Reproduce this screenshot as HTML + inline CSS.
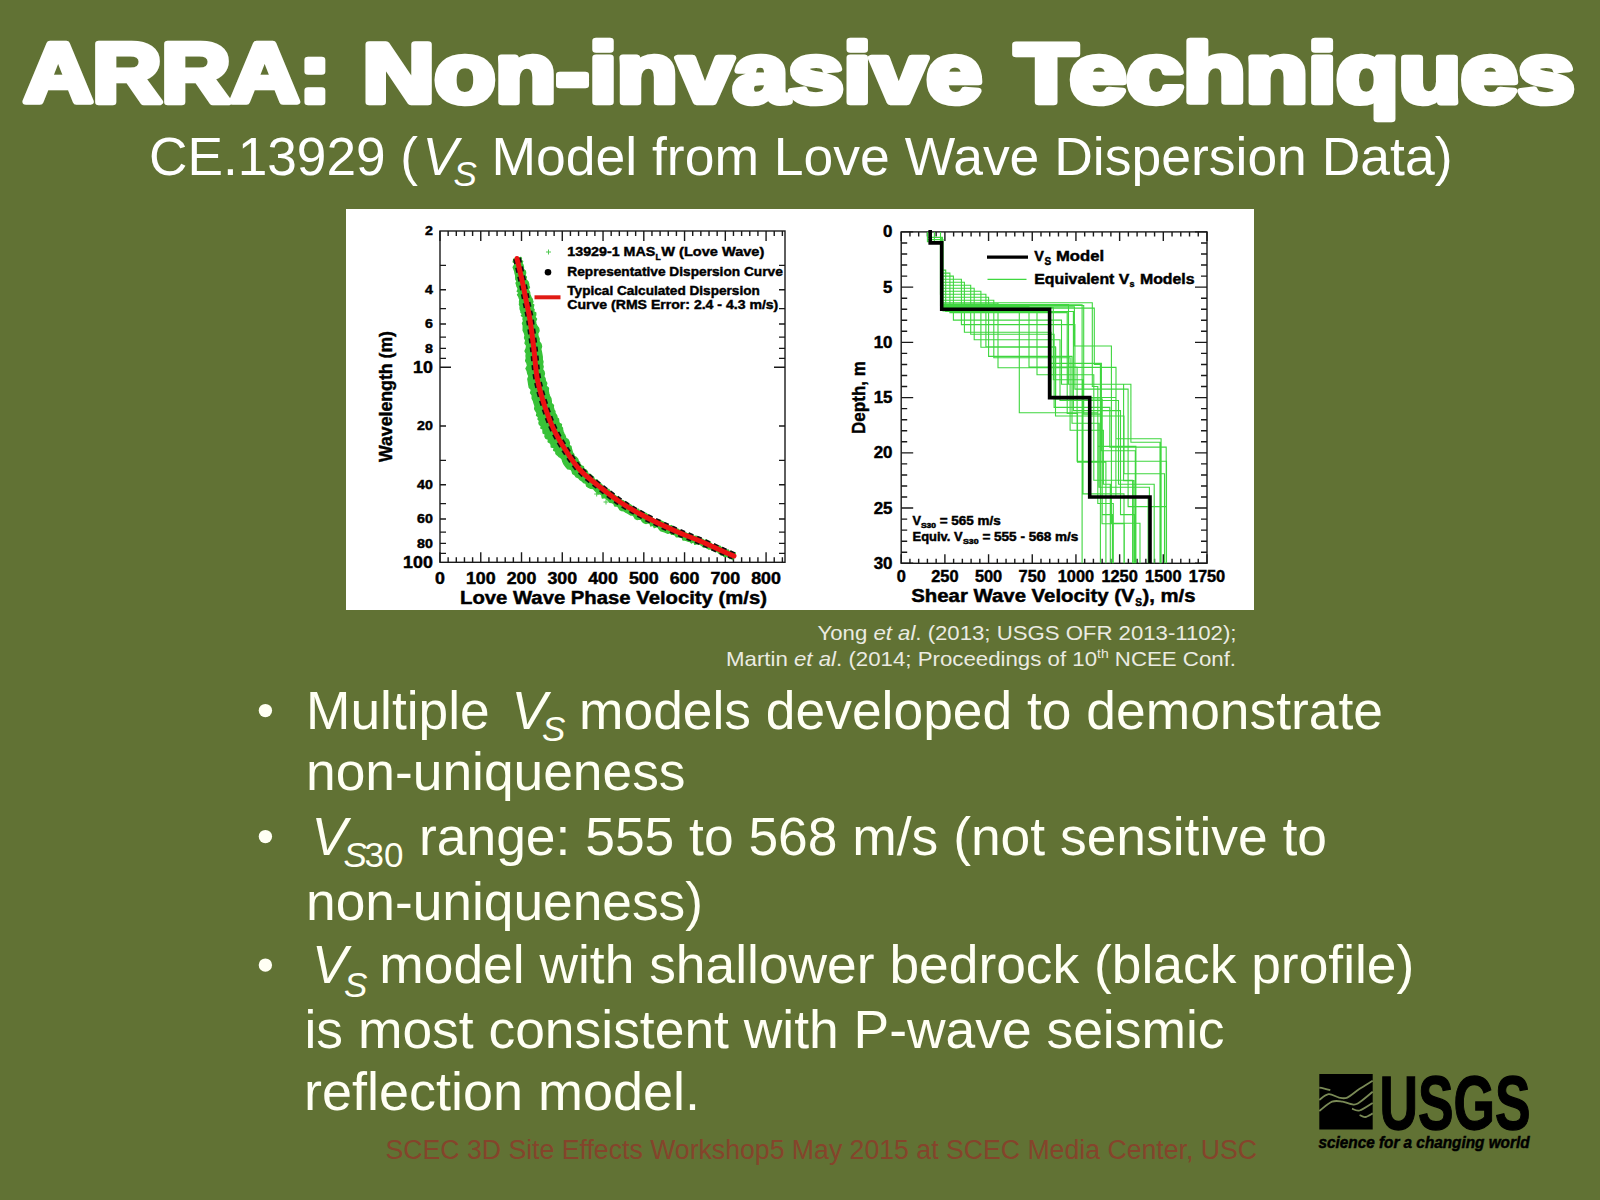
<!DOCTYPE html>
<html><head><meta charset="utf-8"><style>
html,body{margin:0;padding:0;background:#617234;}
svg{display:block;font-family:"Liberation Sans",sans-serif;}
</style></head><body>
<svg width="1600" height="1200" viewBox="0 0 1600 1200">
<rect x="0" y="0" width="1600" height="1200" fill="#617234"/>
<g id="title" stroke="#fff" stroke-width="6.5" stroke-linejoin="round">
<text x="23.80" y="102.30" font-size="83.5" font-weight="bold" font-style="normal" fill="#fff" text-anchor="start" textLength="307.00" lengthAdjust="spacingAndGlyphs" >ARRA:</text>
<text x="362.80" y="102.30" font-size="83.5" font-weight="bold" font-style="normal" fill="#fff" text-anchor="start" textLength="619.00" lengthAdjust="spacingAndGlyphs" >Non-invasive</text>
<text x="1015.00" y="102.30" font-size="83.5" font-weight="bold" font-style="normal" fill="#fff" text-anchor="start" textLength="559.50" lengthAdjust="spacingAndGlyphs" >Techniques</text>
</g>
<text x="149.00" y="175.00" font-size="53.2" font-weight="normal" font-style="normal" fill="#fff" text-anchor="start" >CE.13929 (</text>
<text x="422.50" y="175.00" font-size="53.2" font-weight="normal" font-style="italic" fill="#fff" text-anchor="start" >V</text>
<text x="453.50" y="186.30" font-size="35" font-weight="normal" font-style="italic" fill="#fff" text-anchor="start" >S</text>
<text x="491.50" y="175.00" font-size="53.5" font-weight="normal" font-style="normal" fill="#fff" text-anchor="start" textLength="961.00" lengthAdjust="spacingAndGlyphs" >Model from Love Wave Dispersion Data)</text>
<rect x="346" y="209" width="908" height="401" fill="#fff"/>
<g stroke="#1a1a1a" stroke-width="1.4" fill="none">
<rect x="440" y="231" width="345" height="331.29999999999995"/>
<path d="M440.00 562.3v-10M440.00 231v10M448.15 562.3v-5M448.15 231v5M456.30 562.3v-5M456.30 231v5M464.46 562.3v-5M464.46 231v5M472.61 562.3v-5M472.61 231v5M480.76 562.3v-10M480.76 231v10M488.91 562.3v-5M488.91 231v5M497.06 562.3v-5M497.06 231v5M505.22 562.3v-5M505.22 231v5M513.37 562.3v-5M513.37 231v5M521.52 562.3v-10M521.52 231v10M529.67 562.3v-5M529.67 231v5M537.82 562.3v-5M537.82 231v5M545.98 562.3v-5M545.98 231v5M554.13 562.3v-5M554.13 231v5M562.28 562.3v-10M562.28 231v10M570.43 562.3v-5M570.43 231v5M578.58 562.3v-5M578.58 231v5M586.74 562.3v-5M586.74 231v5M594.89 562.3v-5M594.89 231v5M603.04 562.3v-10M603.04 231v10M611.19 562.3v-5M611.19 231v5M619.34 562.3v-5M619.34 231v5M627.50 562.3v-5M627.50 231v5M635.65 562.3v-5M635.65 231v5M643.80 562.3v-10M643.80 231v10M651.95 562.3v-5M651.95 231v5M660.10 562.3v-5M660.10 231v5M668.26 562.3v-5M668.26 231v5M676.41 562.3v-5M676.41 231v5M684.56 562.3v-10M684.56 231v10M692.71 562.3v-5M692.71 231v5M700.86 562.3v-5M700.86 231v5M709.02 562.3v-5M709.02 231v5M717.17 562.3v-5M717.17 231v5M725.32 562.3v-10M725.32 231v10M733.47 562.3v-5M733.47 231v5M741.62 562.3v-5M741.62 231v5M749.78 562.3v-5M749.78 231v5M757.93 562.3v-5M757.93 231v5M766.08 562.3v-10M766.08 231v10M774.23 562.3v-5M774.23 231v5M782.38 562.3v-5M782.38 231v5M440 265.34h6M785 265.34h-6M440 289.70h6M785 289.70h-6M440 308.60h6M785 308.60h-6M440 324.04h6M785 324.04h-6M440 337.09h6M785 337.09h-6M440 348.40h6M785 348.40h-6M440 358.38h6M785 358.38h-6M440 367.30h11M785 367.30h-11M440 426.00h6M785 426.00h-6M440 460.34h6M785 460.34h-6M440 484.70h6M785 484.70h-6M440 503.60h6M785 503.60h-6M440 519.04h6M785 519.04h-6M440 532.09h6M785 532.09h-6M440 543.40h6M785 543.40h-6M440 553.38h6M785 553.38h-6"/>
</g>
<text x="432.80" y="235.30" font-size="12.5" font-weight="bold" font-style="normal" fill="#000" text-anchor="end" textLength="7.90" lengthAdjust="spacingAndGlyphs" stroke="#000" stroke-width="0.45">2</text>
<text x="432.80" y="294.00" font-size="12.5" font-weight="bold" font-style="normal" fill="#000" text-anchor="end" textLength="7.90" lengthAdjust="spacingAndGlyphs" stroke="#000" stroke-width="0.45">4</text>
<text x="432.80" y="328.34" font-size="12.5" font-weight="bold" font-style="normal" fill="#000" text-anchor="end" textLength="7.90" lengthAdjust="spacingAndGlyphs" stroke="#000" stroke-width="0.45">6</text>
<text x="432.80" y="352.70" font-size="12.5" font-weight="bold" font-style="normal" fill="#000" text-anchor="end" textLength="7.90" lengthAdjust="spacingAndGlyphs" stroke="#000" stroke-width="0.45">8</text>
<text x="432.80" y="430.30" font-size="12.5" font-weight="bold" font-style="normal" fill="#000" text-anchor="end" textLength="15.80" lengthAdjust="spacingAndGlyphs" stroke="#000" stroke-width="0.45">20</text>
<text x="432.80" y="489.00" font-size="12.5" font-weight="bold" font-style="normal" fill="#000" text-anchor="end" textLength="15.80" lengthAdjust="spacingAndGlyphs" stroke="#000" stroke-width="0.45">40</text>
<text x="432.80" y="523.34" font-size="12.5" font-weight="bold" font-style="normal" fill="#000" text-anchor="end" textLength="15.80" lengthAdjust="spacingAndGlyphs" stroke="#000" stroke-width="0.45">60</text>
<text x="432.80" y="547.70" font-size="12.5" font-weight="bold" font-style="normal" fill="#000" text-anchor="end" textLength="15.80" lengthAdjust="spacingAndGlyphs" stroke="#000" stroke-width="0.45">80</text>
<text x="432.80" y="372.90" font-size="16" font-weight="bold" font-style="normal" fill="#000" text-anchor="end" textLength="19.80" lengthAdjust="spacingAndGlyphs" stroke="#000" stroke-width="0.45">10</text>
<text x="432.80" y="567.90" font-size="16" font-weight="bold" font-style="normal" fill="#000" text-anchor="end" textLength="29.70" lengthAdjust="spacingAndGlyphs" stroke="#000" stroke-width="0.45">100</text>
<text x="440.00" y="584.00" font-size="16" font-weight="bold" font-style="normal" fill="#000" text-anchor="middle" textLength="9.90" lengthAdjust="spacingAndGlyphs" stroke="#000" stroke-width="0.45">0</text>
<text x="480.76" y="584.00" font-size="16" font-weight="bold" font-style="normal" fill="#000" text-anchor="middle" textLength="29.70" lengthAdjust="spacingAndGlyphs" stroke="#000" stroke-width="0.45">100</text>
<text x="521.52" y="584.00" font-size="16" font-weight="bold" font-style="normal" fill="#000" text-anchor="middle" textLength="29.70" lengthAdjust="spacingAndGlyphs" stroke="#000" stroke-width="0.45">200</text>
<text x="562.28" y="584.00" font-size="16" font-weight="bold" font-style="normal" fill="#000" text-anchor="middle" textLength="29.70" lengthAdjust="spacingAndGlyphs" stroke="#000" stroke-width="0.45">300</text>
<text x="603.04" y="584.00" font-size="16" font-weight="bold" font-style="normal" fill="#000" text-anchor="middle" textLength="29.70" lengthAdjust="spacingAndGlyphs" stroke="#000" stroke-width="0.45">400</text>
<text x="643.80" y="584.00" font-size="16" font-weight="bold" font-style="normal" fill="#000" text-anchor="middle" textLength="29.70" lengthAdjust="spacingAndGlyphs" stroke="#000" stroke-width="0.45">500</text>
<text x="684.56" y="584.00" font-size="16" font-weight="bold" font-style="normal" fill="#000" text-anchor="middle" textLength="29.70" lengthAdjust="spacingAndGlyphs" stroke="#000" stroke-width="0.45">600</text>
<text x="725.32" y="584.00" font-size="16" font-weight="bold" font-style="normal" fill="#000" text-anchor="middle" textLength="29.70" lengthAdjust="spacingAndGlyphs" stroke="#000" stroke-width="0.45">700</text>
<text x="766.08" y="584.00" font-size="16" font-weight="bold" font-style="normal" fill="#000" text-anchor="middle" textLength="29.70" lengthAdjust="spacingAndGlyphs" stroke="#000" stroke-width="0.45">800</text>
<text x="460.00" y="604.40" font-size="18" font-weight="bold" font-style="normal" fill="#000" text-anchor="start" textLength="307.00" lengthAdjust="spacingAndGlyphs" stroke="#000" stroke-width="0.45">Love Wave Phase Velocity (m/s)</text>
<text transform="translate(391.5 462) rotate(-90)" font-size="18.5" font-weight="bold" fill="#000" textLength="131" lengthAdjust="spacingAndGlyphs" stroke="#000" stroke-width="0.45">Wavelength (m)</text>
<path d="M513.7 259.3 L513.6 260.4 L513.2 261.9 L514.9 263.1 L514.6 265.0 L513.2 267.3 L514.0 269.2 L514.8 271.2 L515.1 273.3 L515.8 275.4 L515.8 277.5 L515.9 279.5 L517.2 281.0 L516.1 283.0 L516.7 284.7 L517.0 286.3 L518.0 287.9 L518.1 289.6 L517.3 291.4 L519.3 292.7 L517.6 294.8 L518.7 296.3 L519.2 297.9 L519.9 299.5 L519.6 301.3 L519.7 303.0 L519.5 304.7 L520.3 306.2 L520.1 307.9 L520.3 309.4 L521.0 310.9 L521.0 312.5 L522.6 313.8 L521.5 315.7 L523.5 317.1 L523.0 319.1 L523.6 321.0 L522.5 323.3 L523.3 325.5 L523.3 327.9 L523.2 330.4 L524.4 332.8 L525.1 335.3 L524.6 338.0 L525.8 340.5 L525.1 343.3 L526.7 345.7 L526.3 348.4 L525.1 351.1 L526.4 353.4 L526.1 355.8 L526.4 358.3 L525.7 360.8 L527.0 363.2 L527.6 365.7 L526.0 368.5 L527.3 371.0 L527.8 373.6 L529.0 376.1 L527.9 379.1 L528.4 381.8 L528.8 384.6 L529.3 387.4 L531.5 389.7 L530.6 392.9 L532.3 395.4 L532.2 398.3 L533.5 400.9 L534.2 403.5 L535.1 406.0 L534.7 408.8 L535.8 410.9 L537.1 412.9 L536.6 415.4 L538.6 416.9 L538.1 419.2 L539.6 420.8 L539.0 423.0 L539.6 424.7 L541.4 425.9 L540.9 428.1 L543.0 429.2 L543.0 431.1 L543.2 433.1 L545.3 434.2 L545.0 436.6 L546.0 438.3 L548.5 439.3 L548.2 441.8 L550.2 442.9 L551.2 444.7 L551.3 447.0 L554.3 447.5 L553.7 450.3 L555.8 451.4 L556.0 453.7 L557.6 455.1 L559.0 456.6 L560.9 457.7 L562.3 459.3 L562.8 461.5 L563.7 463.5 L564.9 465.3 L566.2 467.1 L567.7 468.8 L570.9 469.2 L572.1 471.1 L572.8 473.6 L574.9 474.8 L576.2 476.8 L578.6 477.7 L580.0 479.6 L582.0 480.8 L583.6 482.6 L586.0 483.3 L586.7 486.1 L588.7 487.3 L590.7 488.2 L593.4 488.5 L594.8 490.2 L596.2 491.7 L597.4 493.7 L600.2 493.6 L601.8 495.0 L602.3 497.9 L605.3 497.5 L606.7 499.2 L608.4 500.5 L609.8 502.2 L612.0 502.6 L613.9 503.7 L614.8 506.0 L617.4 505.9 L618.7 507.6 L619.9 509.5 L621.7 510.6 L623.9 510.8 L625.5 512.0 L627.3 512.8 L629.0 513.9 L630.6 515.0 L632.9 515.0 L634.2 516.6 L635.3 518.6 L637.0 519.4 L639.5 519.0 L641.3 519.6 L642.5 521.6 L644.0 522.7 L645.8 523.4 L648.2 522.8 L650.0 523.4 L650.9 525.9 L653.3 525.2 L654.2 527.6 L656.8 526.5 L658.3 527.5 L659.5 529.4 L660.9 530.8 L662.7 531.2 L664.5 531.9 L666.2 532.5 L667.9 533.3 L670.3 532.5 L671.5 534.3 L673.5 534.3 L675.2 535.0 L676.4 536.8 L678.5 536.6 L680.2 537.3 L682.1 537.3 L683.0 540.0 L684.9 540.1 L686.7 540.6 L688.4 541.2 L690.2 541.4 L691.5 542.9 L693.9 541.7 L694.8 544.2 L696.9 543.8 L698.8 543.8 L700.5 544.5 L702.1 545.5 L703.4 547.1 L705.6 546.9 L707.2 547.9 L708.8 549.1 L710.9 549.0 L712.3 550.3 L714.3 550.4 L715.8 551.4 L717.5 551.6 L718.7 553.0 L720.1 553.6 L721.2 554.9 L723.0 554.8 L724.0 556.2 L725.5 556.4 L727.1 556.4 L728.5 556.4 L729.2 557.8 L730.1 558.6 L731.7 557.5 L732.5 557.8 L732.5 559.6 L735.3 553.0 L734.5 553.0 L733.3 553.5 L732.4 553.2 L731.9 551.4 L730.6 551.4 L729.0 551.8 L728.3 549.9 L726.5 550.3 L725.4 549.2 L723.9 548.8 L722.7 547.7 L721.1 547.5 L720.0 546.2 L718.3 545.9 L716.3 545.9 L714.7 545.1 L712.7 545.0 L711.2 543.8 L710.0 541.9 L708.1 541.4 L706.5 540.1 L704.2 540.7 L702.7 539.3 L700.8 539.1 L699.5 537.6 L697.6 537.3 L696.1 536.2 L694.0 536.6 L692.7 535.0 L690.9 534.6 L689.4 533.5 L687.3 534.0 L685.9 532.9 L684.3 532.1 L682.6 531.5 L680.9 530.9 L679.2 530.2 L677.8 529.1 L675.7 529.1 L674.6 527.2 L672.5 527.4 L671.4 525.6 L669.0 526.3 L667.7 524.8 L665.7 524.9 L664.5 523.2 L663.0 521.9 L661.4 521.1 L659.7 520.3 L657.5 520.7 L655.7 520.1 L654.0 519.4 L652.5 518.4 L651.2 516.8 L649.5 516.0 L648.0 515.0 L646.5 513.7 L644.8 513.0 L642.8 512.7 L641.5 511.2 L639.5 511.0 L638.3 509.2 L636.2 509.1 L634.8 507.6 L632.7 507.5 L631.5 505.7 L629.9 504.7 L627.9 504.2 L626.6 502.8 L624.7 502.1 L623.3 500.7 L621.2 500.3 L619.8 498.8 L618.3 497.4 L616.4 496.5 L614.8 495.3 L613.5 493.6 L611.5 492.9 L610.1 491.3 L608.8 489.4 L606.2 489.4 L604.7 488.0 L602.8 486.8 L601.8 484.8 L600.2 483.3 L598.1 482.4 L597.1 480.1 L594.4 480.0 L593.6 477.4 L592.0 476.0 L590.4 474.5 L588.0 473.9 L587.3 471.6 L585.9 470.0 L583.8 469.2 L583.4 466.8 L581.5 465.9 L580.0 464.6 L579.5 462.4 L578.2 460.9 L577.6 458.9 L576.2 457.4 L574.2 456.4 L573.7 454.3 L572.4 452.7 L571.9 450.6 L571.3 448.6 L570.9 446.5 L569.0 445.4 L569.4 442.9 L568.7 441.1 L567.8 439.4 L565.7 438.5 L565.3 436.5 L564.6 434.8 L563.7 433.3 L563.0 431.5 L562.5 429.8 L562.4 427.9 L561.1 426.5 L561.4 424.5 L559.5 423.5 L558.7 422.1 L558.6 420.4 L558.4 418.9 L556.9 417.8 L556.8 416.1 L556.0 414.7 L554.9 413.2 L554.9 411.3 L553.9 409.6 L553.2 407.6 L553.4 405.2 L551.3 403.4 L551.2 400.8 L550.8 398.3 L549.5 396.0 L548.7 393.5 L548.2 390.9 L548.4 388.1 L546.0 386.0 L546.7 383.2 L545.3 380.9 L545.0 378.5 L543.7 376.3 L544.4 373.8 L543.9 371.5 L542.4 369.3 L543.1 366.7 L542.4 364.3 L542.9 361.8 L542.2 359.4 L542.2 356.8 L541.8 354.3 L541.3 351.7 L540.7 349.2 L541.5 346.5 L540.9 343.9 L539.0 341.5 L539.1 338.8 L538.0 336.3 L537.6 333.6 L539.0 330.8 L538.6 328.3 L536.8 326.0 L535.9 323.7 L535.4 321.4 L536.5 319.0 L534.8 317.1 L535.7 314.9 L535.7 313.0 L533.5 311.6 L534.1 309.8 L533.0 308.3 L533.3 306.6 L533.7 304.9 L531.7 303.7 L532.9 301.9 L532.4 300.4 L532.0 298.8 L531.0 297.3 L530.2 295.7 L529.7 294.1 L529.6 292.4 L528.8 290.9 L528.2 289.3 L529.4 287.3 L528.8 285.7 L528.6 284.0 L528.2 282.3 L527.0 280.7 L525.7 279.2 L526.3 277.1 L524.8 275.4 L525.6 273.1 L525.3 271.0 L523.3 269.2 L523.4 267.0 L522.9 265.0 L521.9 263.3 L522.6 261.3 L520.7 260.1 L521.4 258.6 L521.0 257.6Z" fill="#38c238" stroke="#38c238" stroke-width="1.5" stroke-linejoin="round"/>
<path d="M594.2 494h5M596.7 491.5v5M603.5 502h5M606 499.5v5" stroke="#50c850" stroke-width="1"/>
<path d="M517 258.5C517.8 262.1 520.5 273.1 522 280C523.5 286.9 524.7 293.3 526 300C527.3 306.7 528.7 311.7 530 320C531.3 328.3 532.8 340.0 534 350C535.2 360.0 535.5 370.0 537.5 380C539.5 390.0 543.2 401.7 546 410C548.8 418.3 550.8 423.3 554 430C557.2 436.7 561.2 443.3 565.5 450C569.8 456.7 574.2 463.8 580 470C585.8 476.2 593.3 481.7 600 487C606.7 492.3 613.3 497.5 620 502C626.7 506.5 633.3 510.3 640 514C646.7 517.7 653.3 520.8 660 524C666.7 527.2 673.3 530.2 680 533C686.7 535.8 693.3 538.2 700 541C706.7 543.8 714.3 547.5 720 550C725.7 552.5 731.7 555.0 734 556" stroke="#111" stroke-width="8" fill="none" stroke-dasharray="5 4"/>
<path d="M517 258.5C517.8 262.1 520.5 273.1 522 280C523.5 286.9 524.7 293.3 526 300C527.3 306.7 528.7 311.7 530 320C531.3 328.3 532.8 340.0 534 350C535.2 360.0 535.5 370.0 537.5 380C539.5 390.0 543.2 401.7 546 410C548.8 418.3 550.8 423.3 554 430C557.2 436.7 561.2 443.3 565.5 450C569.8 456.7 574.2 463.8 580 470C585.8 476.2 593.3 481.7 600 487C606.7 492.3 613.3 497.5 620 502C626.7 506.5 633.3 510.3 640 514C646.7 517.7 653.3 520.8 660 524C666.7 527.2 673.3 530.2 680 533C686.7 535.8 693.3 538.2 700 541C706.7 543.8 714.3 547.5 720 550C725.7 552.5 731.7 555.0 734 556" stroke="#ec1212" stroke-width="5" fill="none" stroke-linecap="round"/>
<path d="M546 252h5M548.5 249.5v5" stroke="#50c850" stroke-width="1"/>
<circle cx="548" cy="272.2" r="3.3" fill="#000"/>
<path d="M534.5 297.3h26" stroke="#e01b14" stroke-width="4"/>
<text x="567.30" y="256.10" font-size="13.5" font-weight="bold" font-style="normal" fill="#000" text-anchor="start" textLength="88.00" lengthAdjust="spacingAndGlyphs" stroke="#000" stroke-width="0.45">13929-1 MAS</text>
<text x="655.50" y="259.50" font-size="8.5" font-weight="bold" font-style="normal" fill="#000" text-anchor="start" stroke="#000" stroke-width="0.45">L</text>
<text x="661.30" y="256.10" font-size="13.5" font-weight="bold" font-style="normal" fill="#000" text-anchor="start" textLength="103.00" lengthAdjust="spacingAndGlyphs" stroke="#000" stroke-width="0.45">W (Love Wave)</text>
<text x="567.30" y="276.30" font-size="13.5" font-weight="bold" font-style="normal" fill="#000" text-anchor="start" textLength="215.50" lengthAdjust="spacingAndGlyphs" stroke="#000" stroke-width="0.45">Representative Dispersion Curve</text>
<text x="567.30" y="294.90" font-size="13.5" font-weight="bold" font-style="normal" fill="#000" text-anchor="start" textLength="192.50" lengthAdjust="spacingAndGlyphs" stroke="#000" stroke-width="0.45">Typical Calculated Dispersion</text>
<text x="567.30" y="309.25" font-size="13.5" font-weight="bold" font-style="normal" fill="#000" text-anchor="start" textLength="211.00" lengthAdjust="spacingAndGlyphs" stroke="#000" stroke-width="0.45">Curve (RMS Error: 2.4 - 4.3 m/s)</text>
<g stroke="#1a1a1a" stroke-width="1.4" fill="none">
<rect x="901.2" y="231.9" width="305.79999999999995" height="331.4"/>
<path d="M901.20 563.3v-9M901.20 231.9v9M909.94 563.3v-4.6M909.94 231.9v4.6M918.67 563.3v-4.6M918.67 231.9v4.6M927.41 563.3v-4.6M927.41 231.9v4.6M936.15 563.3v-4.6M936.15 231.9v4.6M944.89 563.3v-9M944.89 231.9v9M953.62 563.3v-4.6M953.62 231.9v4.6M962.36 563.3v-4.6M962.36 231.9v4.6M971.10 563.3v-4.6M971.10 231.9v4.6M979.83 563.3v-4.6M979.83 231.9v4.6M988.57 563.3v-9M988.57 231.9v9M997.31 563.3v-4.6M997.31 231.9v4.6M1006.05 563.3v-4.6M1006.05 231.9v4.6M1014.78 563.3v-4.6M1014.78 231.9v4.6M1023.52 563.3v-4.6M1023.52 231.9v4.6M1032.26 563.3v-9M1032.26 231.9v9M1040.99 563.3v-4.6M1040.99 231.9v4.6M1049.73 563.3v-4.6M1049.73 231.9v4.6M1058.47 563.3v-4.6M1058.47 231.9v4.6M1067.21 563.3v-4.6M1067.21 231.9v4.6M1075.94 563.3v-9M1075.94 231.9v9M1084.68 563.3v-4.6M1084.68 231.9v4.6M1093.42 563.3v-4.6M1093.42 231.9v4.6M1102.15 563.3v-4.6M1102.15 231.9v4.6M1110.89 563.3v-4.6M1110.89 231.9v4.6M1119.63 563.3v-9M1119.63 231.9v9M1128.37 563.3v-4.6M1128.37 231.9v4.6M1137.10 563.3v-4.6M1137.10 231.9v4.6M1145.84 563.3v-4.6M1145.84 231.9v4.6M1154.58 563.3v-4.6M1154.58 231.9v4.6M1163.31 563.3v-9M1163.31 231.9v9M1172.05 563.3v-4.6M1172.05 231.9v4.6M1180.79 563.3v-4.6M1180.79 231.9v4.6M1189.53 563.3v-4.6M1189.53 231.9v4.6M1198.26 563.3v-4.6M1198.26 231.9v4.6M1207.00 563.3v-9M1207.00 231.9v9M901.2 231.90h12M1207 231.90h-12M901.2 242.95h6M1207 242.95h-6M901.2 253.99h6M1207 253.99h-6M901.2 265.04h6M1207 265.04h-6M901.2 276.09h6M1207 276.09h-6M901.2 287.13h12M1207 287.13h-12M901.2 298.18h6M1207 298.18h-6M901.2 309.23h6M1207 309.23h-6M901.2 320.27h6M1207 320.27h-6M901.2 331.32h6M1207 331.32h-6M901.2 342.37h12M1207 342.37h-12M901.2 353.41h6M1207 353.41h-6M901.2 364.46h6M1207 364.46h-6M901.2 375.51h6M1207 375.51h-6M901.2 386.55h6M1207 386.55h-6M901.2 397.60h12M1207 397.60h-12M901.2 408.65h6M1207 408.65h-6M901.2 419.69h6M1207 419.69h-6M901.2 430.74h6M1207 430.74h-6M901.2 441.79h6M1207 441.79h-6M901.2 452.83h12M1207 452.83h-12M901.2 463.88h6M1207 463.88h-6M901.2 474.93h6M1207 474.93h-6M901.2 485.97h6M1207 485.97h-6M901.2 497.02h6M1207 497.02h-6M901.2 508.07h12M1207 508.07h-12M901.2 519.11h6M1207 519.11h-6M901.2 530.16h6M1207 530.16h-6M901.2 541.21h6M1207 541.21h-6M901.2 552.25h6M1207 552.25h-6M901.2 563.30h12M1207 563.30h-12"/>
</g>
<path d="M934.4 231.9V241.8H941.3V270.1H945.7V311.5H1073.4V410.6H1120.5V514.6H1134.8V563.3M927.4 231.9V237.4H940.7V273.1H949.9V312.6H1067.2V413.5H1077.5V462.1H1105.9V563.3M940.5 231.9V237.4H942.5V276.1H953.4V320.1H1061.5V384.3H1130.9V442.3H1160.0V563.3M929.2 231.9V237.4H941.2V279.2H961.4V324.6H1074.9V389.1H1128.1V506.6H1166.3V563.3M940.5 231.9V239.6H941.9V282.2H964.4V332.2H1051.1V397.5H1115.9V496.8H1148.1V563.3M934.4 231.9V237.4H941.2V285.2H970.7V334.2H1054.1V407.4H1109.8V447.1H1166.2V563.3M927.4 231.9V241.8H941.3V288.2H974.2V339.7H1060.0V400.5H1118.5V484.3H1154.2V563.3M929.2 231.9V237.4H942.5V291.2H980.9V347.3H1055.7V399.0H1102.2V514.6H1112.4V563.3M934.4 231.9V239.6H940.4V294.2H985.9V346.7H1055.5V416.0H1124.0V473.7H1164.5V563.3M927.4 231.9V239.6H942.3V297.2H988.6V356.4H1072.0V423.3H1099.1V487.2H1149.4V563.3M927.4 231.9V241.8H941.8V300.2H993.8V357.7H1070.1V430.3H1103.4V484.3H1110.3V563.3M927.4 231.9V239.6H941.3V303.3H998.0V367.7H1068.4V384.3H1123.6V480.6H1133.9V563.3M934.4 231.9V237.4H940.5V305.5H1019.3V412.8H1097.8V446.4H1135.9V563.3M940.5 231.9V241.8H942.4V306.2H1029.0V367.0H1077.1V461.3H1166.5V563.3M929.2 231.9V241.8H943.0V310.9H1037.0V374.8H1093.8V480.2H1132.6V563.3M927.4 231.9V239.6H942.3V308.5H1049.8V363.4H1101.4V450.7H1135.3V563.3M934.4 231.9V239.6H942.2V307.4H1053.3V379.7H1083.0V493.9H1124.0V563.3M934.4 231.9V239.6H941.1V304.6H1068.5V367.4H1116.0V438.7H1161.1V563.3M940.5 231.9V239.6H943.0V306.7H1074.4V346.0H1111.4V523.2H1140.0V563.3M927.4 231.9V241.8H942.2V305.5H1083.7V414.1H1102.0V523.8H1124.3V563.3M934.4 231.9V241.8H943.1V302.8H1092.3V386.5H1097.8V503.5H1113.3V563.3M929.2 231.9V239.6H941.7V304.8H1082.1V563.3M934.4 231.9V237.4H942.4V308.1H1094.3V364.5H1100.4V563.3" stroke="#3fd63f" stroke-width="1.1" fill="none"/>
<path d="M930.2 229.9V242.9H941.7V309.2H1049.6V397.6H1089.7V497.0H1150.0V563.3" stroke="#000" stroke-width="3.6" fill="none"/>
<path d="M987 257.2h41" stroke="#000" stroke-width="3.2"/>
<path d="M987.5 279.4h39" stroke="#3fd83f" stroke-width="1.3"/>
<text x="1034.30" y="261.00" font-size="14.5" font-weight="bold" font-style="normal" fill="#000" text-anchor="start" stroke="#000" stroke-width="0.45">V</text>
<text x="1044.50" y="265.00" font-size="10" font-weight="bold" font-style="normal" fill="#000" text-anchor="start" stroke="#000" stroke-width="0.45">S</text>
<text x="1056.00" y="261.00" font-size="14.5" font-weight="bold" font-style="normal" fill="#000" text-anchor="start" textLength="48.00" lengthAdjust="spacingAndGlyphs" stroke="#000" stroke-width="0.45">Model</text>
<text x="1034.30" y="284.00" font-size="14.5" font-weight="bold" font-style="normal" fill="#000" text-anchor="start" textLength="95.00" lengthAdjust="spacingAndGlyphs" stroke="#000" stroke-width="0.45">Equivalent V</text>
<text x="1129.50" y="287.00" font-size="9" font-weight="bold" font-style="normal" fill="#000" text-anchor="start" stroke="#000" stroke-width="0.45">s</text>
<text x="1140.00" y="284.00" font-size="14.5" font-weight="bold" font-style="normal" fill="#000" text-anchor="start" textLength="54.50" lengthAdjust="spacingAndGlyphs" stroke="#000" stroke-width="0.45">Models</text>
<text x="912.60" y="525.20" font-size="12" font-weight="bold" font-style="normal" fill="#000" text-anchor="start" textLength="8.50" lengthAdjust="spacingAndGlyphs" stroke="#000" stroke-width="0.45">V</text>
<text x="921.00" y="528.00" font-size="6.5" font-weight="bold" font-style="normal" fill="#000" text-anchor="start" textLength="15.00" lengthAdjust="spacingAndGlyphs" stroke="#000" stroke-width="0.45">S30</text>
<text x="939.70" y="525.20" font-size="12" font-weight="bold" font-style="normal" fill="#000" text-anchor="start" textLength="61.00" lengthAdjust="spacingAndGlyphs" stroke="#000" stroke-width="0.45">= 565 m/s</text>
<text x="912.60" y="540.70" font-size="12" font-weight="bold" font-style="normal" fill="#000" text-anchor="start" textLength="50.00" lengthAdjust="spacingAndGlyphs" stroke="#000" stroke-width="0.45">Equiv. V</text>
<text x="963.00" y="543.60" font-size="6.5" font-weight="bold" font-style="normal" fill="#000" text-anchor="start" textLength="15.50" lengthAdjust="spacingAndGlyphs" stroke="#000" stroke-width="0.45">S30</text>
<text x="982.40" y="540.70" font-size="12" font-weight="bold" font-style="normal" fill="#000" text-anchor="start" textLength="96.00" lengthAdjust="spacingAndGlyphs" stroke="#000" stroke-width="0.45">= 555 - 568 m/s</text>
<text x="892.50" y="237.40" font-size="16" font-weight="bold" font-style="normal" fill="#000" text-anchor="end" textLength="9.40" lengthAdjust="spacingAndGlyphs" stroke="#000" stroke-width="0.45">0</text>
<text x="892.50" y="292.63" font-size="16" font-weight="bold" font-style="normal" fill="#000" text-anchor="end" textLength="9.40" lengthAdjust="spacingAndGlyphs" stroke="#000" stroke-width="0.45">5</text>
<text x="892.50" y="347.87" font-size="16" font-weight="bold" font-style="normal" fill="#000" text-anchor="end" textLength="18.80" lengthAdjust="spacingAndGlyphs" stroke="#000" stroke-width="0.45">10</text>
<text x="892.50" y="403.10" font-size="16" font-weight="bold" font-style="normal" fill="#000" text-anchor="end" textLength="18.80" lengthAdjust="spacingAndGlyphs" stroke="#000" stroke-width="0.45">15</text>
<text x="892.50" y="458.33" font-size="16" font-weight="bold" font-style="normal" fill="#000" text-anchor="end" textLength="18.80" lengthAdjust="spacingAndGlyphs" stroke="#000" stroke-width="0.45">20</text>
<text x="892.50" y="513.57" font-size="16" font-weight="bold" font-style="normal" fill="#000" text-anchor="end" textLength="18.80" lengthAdjust="spacingAndGlyphs" stroke="#000" stroke-width="0.45">25</text>
<text x="892.50" y="568.80" font-size="16" font-weight="bold" font-style="normal" fill="#000" text-anchor="end" textLength="18.80" lengthAdjust="spacingAndGlyphs" stroke="#000" stroke-width="0.45">30</text>
<text x="901.20" y="582.00" font-size="16" font-weight="bold" font-style="normal" fill="#000" text-anchor="middle" textLength="9.10" lengthAdjust="spacingAndGlyphs" stroke="#000" stroke-width="0.45">0</text>
<text x="944.89" y="582.00" font-size="16" font-weight="bold" font-style="normal" fill="#000" text-anchor="middle" textLength="27.30" lengthAdjust="spacingAndGlyphs" stroke="#000" stroke-width="0.45">250</text>
<text x="988.57" y="582.00" font-size="16" font-weight="bold" font-style="normal" fill="#000" text-anchor="middle" textLength="27.30" lengthAdjust="spacingAndGlyphs" stroke="#000" stroke-width="0.45">500</text>
<text x="1032.26" y="582.00" font-size="16" font-weight="bold" font-style="normal" fill="#000" text-anchor="middle" textLength="27.30" lengthAdjust="spacingAndGlyphs" stroke="#000" stroke-width="0.45">750</text>
<text x="1075.94" y="582.00" font-size="16" font-weight="bold" font-style="normal" fill="#000" text-anchor="middle" textLength="36.40" lengthAdjust="spacingAndGlyphs" stroke="#000" stroke-width="0.45">1000</text>
<text x="1119.63" y="582.00" font-size="16" font-weight="bold" font-style="normal" fill="#000" text-anchor="middle" textLength="36.40" lengthAdjust="spacingAndGlyphs" stroke="#000" stroke-width="0.45">1250</text>
<text x="1163.31" y="582.00" font-size="16" font-weight="bold" font-style="normal" fill="#000" text-anchor="middle" textLength="36.40" lengthAdjust="spacingAndGlyphs" stroke="#000" stroke-width="0.45">1500</text>
<text x="1207.00" y="582.00" font-size="16" font-weight="bold" font-style="normal" fill="#000" text-anchor="middle" textLength="36.40" lengthAdjust="spacingAndGlyphs" stroke="#000" stroke-width="0.45">1750</text>
<text x="911.20" y="601.70" font-size="18" font-weight="bold" font-style="normal" fill="#000" text-anchor="start" textLength="223.50" lengthAdjust="spacingAndGlyphs" stroke="#000" stroke-width="0.45">Shear Wave Velocity (V</text>
<text x="1135.30" y="605.60" font-size="10" font-weight="bold" font-style="normal" fill="#000" text-anchor="start" textLength="6.80" lengthAdjust="spacingAndGlyphs" stroke="#000" stroke-width="0.45">S</text>
<text x="1142.50" y="601.70" font-size="18" font-weight="bold" font-style="normal" fill="#000" text-anchor="start" textLength="53.00" lengthAdjust="spacingAndGlyphs" stroke="#000" stroke-width="0.45">), m/s</text>
<text transform="translate(864.5 434) rotate(-90)" font-size="18.5" font-weight="bold" fill="#000" textLength="73" lengthAdjust="spacingAndGlyphs" stroke="#000" stroke-width="0.45">Depth, m</text>
<text x="817.5" y="639.75" font-size="20.8" fill="#ebebe2" textLength="419" lengthAdjust="spacingAndGlyphs">Yong <tspan font-style="italic">et al</tspan>. (2013; USGS OFR 2013-1102);</text>
<text x="726" y="666" font-size="20.8" fill="#ebebe2" textLength="510" lengthAdjust="spacingAndGlyphs">Martin <tspan font-style="italic">et al</tspan>. (2014; Proceedings of 10<tspan font-size="13" dy="-8">th</tspan><tspan dy="8"> NCEE Conf.</tspan></text>
<circle cx="265.4" cy="710.6" r="6.7" fill="#fffff4"/>
<circle cx="265.4" cy="836.6" r="6.7" fill="#fffff4"/>
<circle cx="265.4" cy="965.1" r="6.7" fill="#fffff4"/>
<text x="306.00" y="728.80" font-size="53.3" font-weight="normal" font-style="normal" fill="#fffff4" text-anchor="start" >Multiple</text>
<text x="511.50" y="728.80" font-size="53.3" font-weight="normal" font-style="italic" fill="#fffff4" text-anchor="start" >V</text>
<text x="542.00" y="740.80" font-size="35" font-weight="normal" font-style="italic" fill="#fffff4" text-anchor="start" >S</text>
<text x="579.00" y="728.80" font-size="53.3" font-weight="normal" font-style="normal" fill="#fffff4" text-anchor="start" textLength="804.00" lengthAdjust="spacingAndGlyphs" >models developed to demonstrate</text>
<text x="306.00" y="790.00" font-size="53.3" font-weight="normal" font-style="normal" fill="#fffff4" text-anchor="start" textLength="379.50" lengthAdjust="spacingAndGlyphs" >non-uniqueness</text>
<text x="311.50" y="854.80" font-size="53.3" font-weight="normal" font-style="italic" fill="#fffff4" text-anchor="start" >V</text>
<text x="343.50" y="866.80" font-size="35" font-weight="normal" font-style="italic" fill="#fffff4" text-anchor="start" >S</text>
<text x="364.50" y="866.80" font-size="35" font-weight="normal" font-style="normal" fill="#fffff4" text-anchor="start" >30</text>
<text x="419.00" y="854.80" font-size="53.3" font-weight="normal" font-style="normal" fill="#fffff4" text-anchor="start" textLength="908.00" lengthAdjust="spacingAndGlyphs" >range: 555 to 568 m/s (not sensitive to</text>
<text x="306.00" y="919.60" font-size="53.3" font-weight="normal" font-style="normal" fill="#fffff4" text-anchor="start" textLength="397.00" lengthAdjust="spacingAndGlyphs" >non-uniqueness)</text>
<text x="311.90" y="983.30" font-size="53.3" font-weight="normal" font-style="italic" fill="#fffff4" text-anchor="start" >V</text>
<text x="344.00" y="997.10" font-size="35" font-weight="normal" font-style="italic" fill="#fffff4" text-anchor="start" >S</text>
<text x="379.30" y="983.30" font-size="53.3" font-weight="normal" font-style="normal" fill="#fffff4" text-anchor="start" textLength="1035.00" lengthAdjust="spacingAndGlyphs" >model with shallower bedrock (black profile)</text>
<text x="304.50" y="1047.90" font-size="53.3" font-weight="normal" font-style="normal" fill="#fffff4" text-anchor="start" textLength="920.00" lengthAdjust="spacingAndGlyphs" >is most consistent with P-wave seismic</text>
<text x="304.00" y="1109.80" font-size="53.3" font-weight="normal" font-style="normal" fill="#fffff4" text-anchor="start" textLength="396.00" lengthAdjust="spacingAndGlyphs" >reflection model.</text>
<text x="385.50" y="1159.20" font-size="27" font-weight="normal" font-style="normal" fill="#85442b" text-anchor="start" textLength="871.50" lengthAdjust="spacingAndGlyphs" >SCEC 3D Site Effects Workshop5 May 2015 at SCEC Media Center, USC</text>
<g>
<rect x="1319.3" y="1074" width="53.4" height="55.5" fill="#000"/>
<path d="M1319.3 1087.7C1320.1 1087.8 1322.5 1088.2 1324.3 1088.6C1326.1 1089.0 1329.3 1089.9 1330.3 1090.2" stroke="#7a8a56" stroke-width="1.8" fill="none"/>
<path d="M1319.3 1100C1320.8 1099.0 1325.3 1094.6 1328.6 1094.2C1331.9 1093.8 1336.0 1097.0 1339.1 1097.6C1342.2 1098.2 1343.9 1099.0 1347.3 1097.6C1350.7 1096.2 1355.1 1091.8 1359.3 1089C1363.5 1086.2 1370.5 1082.1 1372.7 1080.7" stroke="#7a8a56" stroke-width="1.8" fill="none"/>
<path d="M1319.3 1111C1321.4 1109.5 1328.2 1103.2 1332.1 1101.7C1336.0 1100.2 1339.5 1101.3 1342.6 1101.7C1345.7 1102.1 1348.3 1103.7 1350.8 1104C1353.3 1104.3 1354.1 1105.5 1357.8 1103.5C1361.5 1101.5 1370.2 1093.8 1372.7 1091.8" stroke="#7a8a56" stroke-width="1.8" fill="none"/>
<path d="M1352.0 1108.7C1353.3 1109.0 1356.1 1111.5 1359.6 1110.5C1363.0 1109.5 1370.5 1104.2 1372.7 1102.9" stroke="#7a8a56" stroke-width="1.8" fill="none"/>
<path d="M1359.6 1115C1360.5 1115.3 1363.1 1117.3 1365.3 1117C1367.5 1116.7 1371.5 1114.0 1372.7 1113.4" stroke="#7a8a56" stroke-width="1.8" fill="none"/>
</g>
<text x="1379.5" y="1128.6" font-size="76" font-weight="bold" fill="#000" stroke="#000" stroke-width="1.3" textLength="151" lengthAdjust="spacingAndGlyphs">USGS</text>
<text x="1318.50" y="1147.50" font-size="16.5" font-weight="bold" font-style="italic" fill="#000" text-anchor="start" textLength="211.00" lengthAdjust="spacingAndGlyphs" stroke="#000" stroke-width="0.5">science for a changing world</text>
</svg></body></html>
